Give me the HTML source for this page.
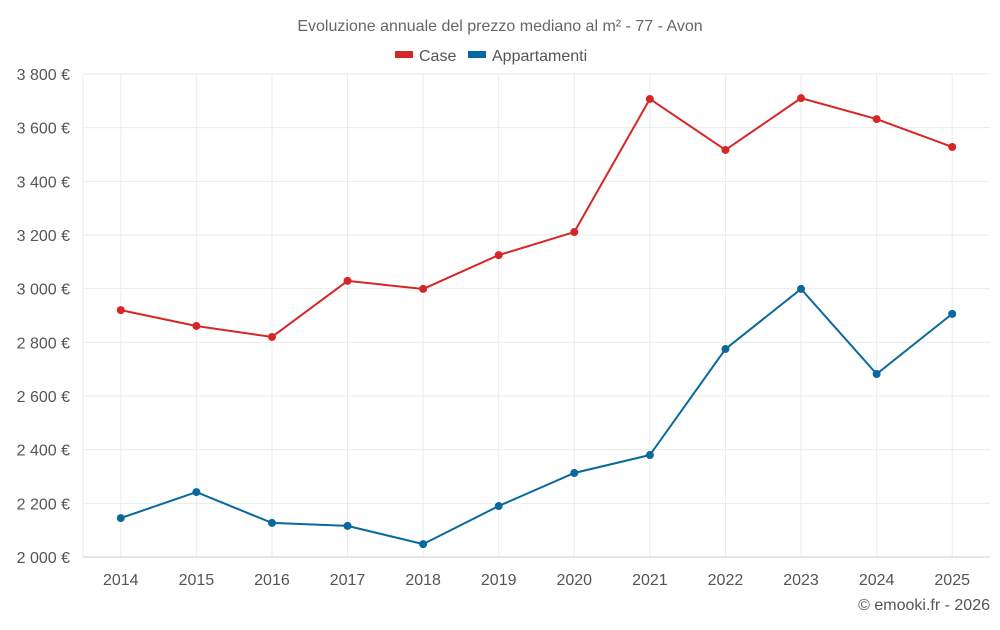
<!DOCTYPE html>
<html><head><meta charset="utf-8"><style>
body{margin:0;background:#fff;font-family:"Liberation Sans",sans-serif;}
svg text{font-family:"Liberation Sans",sans-serif;}
</style></head><body>
<svg id="chart" width="1000" height="625" xmlns="http://www.w3.org/2000/svg">
<text x="500" y="31" text-anchor="middle" font-size="16" fill="#666">Evoluzione annuale del prezzo mediano al m² - 77 - Avon</text>
<g>
<g><rect x="395" y="51" width="18" height="7" fill="#d62728"/><text x="419" y="61" font-size="16" fill="#555">Case</text></g>
<g><rect x="468" y="51" width="18" height="7" fill="#0868a0"/><text x="492" y="61" font-size="16" fill="#555">Appartamenti</text></g>
</g>
<g id="grid"></g><g id="axes"></g><g id="series"></g>
<text x="990" y="610" text-anchor="end" font-size="16" fill="#555">© emooki.fr - 2026</text>
</svg>
<script>
const years=[2014,2015,2016,2017,2018,2019,2020,2021,2022,2023,2024,2025];
const caseValues=[2920,2861,2820,3029,2999,3125,3211,3707,3517,3710,3632,3528];
const apptValues=[2145,2242,2127,2116,2048,2190,2313,2380,2775,2999,2682,2906];
const yTicks=[2000,2200,2400,2600,2800,3000,3200,3400,3600,3800];
const NS="http://www.w3.org/2000/svg";
const L=83,R=990,T=74,B=557,ymin=2000,ymax=3800;
const step=(R-L)/years.length;
const xs=i=>L+step*(i+0.5);
const ys=v=>B-(v-ymin)/(ymax-ymin)*(B-T);
function mk(tag,attrs,parent){const e=document.createElementNS(NS,tag);for(const k in attrs)e.setAttribute(k,attrs[k]);parent.appendChild(e);return e;}
const grid=document.getElementById('grid'),axes=document.getElementById('axes'),ser=document.getElementById('series');
const fmt=v=>String(v).replace(/\B(?=(\d{3})+$)/,' ')+' €';
const edge=mk('line',{x1:L,x2:L,y1:T,y2:B,stroke:'#ebebeb'},grid);


years.forEach((y,i)=>{
 const l=mk('line',{x1:xs(i),x2:xs(i),y1:T,y2:B,stroke:'#ebebeb'},grid);
 
 
});
yTicks.forEach(v=>{
 const l=mk('line',{x1:L,x2:R,y1:ys(v),y2:ys(v),stroke:v===ymin?'#ccc':'#ebebeb'},grid);
 
 
 const t=mk('text',{x:70,y:ys(v)+6,'text-anchor':'end','font-size':16,fill:'#555'},axes);
 t.textContent=fmt(v);
 
 
});
years.forEach((y,i)=>{
 const t=mk('text',{x:xs(i),y:585,'text-anchor':'middle','font-size':16,fill:'#555'},axes);
 t.textContent=y;
 
 
});
function draw(vals,color,name){
 const p=mk('polyline',{points:vals.map((v,i)=>xs(i)+','+ys(v)).join(' '),fill:'none',stroke:color,'stroke-width':2},ser);
 
 
 vals.forEach((v,i)=>{
  const c=mk('circle',{cx:xs(i),cy:ys(v),r:4,fill:color},ser);
  
  
 });
}
draw(caseValues,'#d62728','case');
draw(apptValues,'#0868a0','appartamenti');
</script>
</body></html>
